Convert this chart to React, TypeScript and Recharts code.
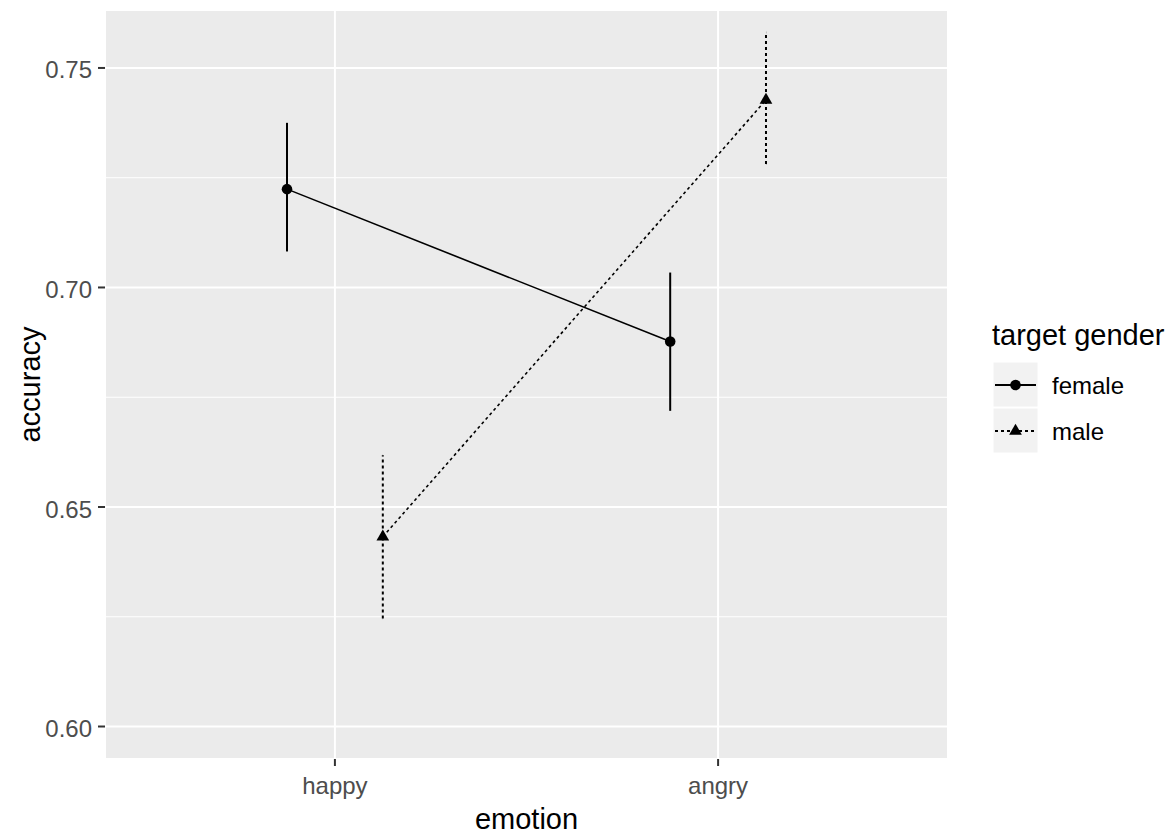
import React from 'react';
import {
  ComposedChart,
  Scatter,
  XAxis,
  YAxis,
  CartesianGrid,
  ReferenceLine,
  ErrorBar,
  Symbols,
} from 'recharts';

// Mean accuracy with confidence bounds, by emotion and target gender
const emotions = ['happy', 'angry'];
const femaleMean = [0.7224, 0.6877];
const femaleLow = [0.7082, 0.6719];
const femaleHigh = [0.7375, 0.7034];
const maleMean = [0.6432, 0.7427];
const maleLow = [0.6246, 0.7281];
const maleHigh = [0.6618, 0.7581];

const yTicks = [0.6, 0.65, 0.7, 0.75];
const yMinorTicks = [0.625, 0.675, 0.725];
const xTicks = [1, 2];
const dodge = 0.125;

const FONT = '"Liberation Sans", Arial, Helvetica, sans-serif';
const W = 1173;
const H = 839;

const build = (mean: number[], low: number[], high: number[], offset: number) =>
  emotions.map((e, i) => ({
    emotion: e,
    x: i + 1 + offset,
    y: mean[i],
    err: [mean[i] - low[i], high[i] - mean[i]],
  }));

const femaleData = build(femaleMean, femaleLow, femaleHigh, -dodge);
const maleData = build(maleMean, maleLow, maleHigh, dodge);

const circleShape = (p: any) => (
  <Symbols cx={p.cx} cy={p.cy} type="circle" size={88} fill="#000000" />
);
const triangleShape = (p: any) => (
  <Symbols cx={p.cx} cy={p.cy} type="triangle" size={70} fill="#000000" />
);

function LegendBox() {
  return (
    <svg
      width={W}
      height={H}
      style={{ position: 'absolute', left: 0, top: 0, pointerEvents: 'none' }}
    >
      <text x={992} y={345} fontFamily={FONT} fontSize={29} fill="#000">
        target gender
      </text>
      <rect x={993} y={362} width={45} height={45} fill="#F2F2F2" stroke="#ffffff" strokeWidth={1} />
      <line x1={995} x2={1036} y1={385} y2={385} stroke="#000" strokeWidth={1.8} />
      <Symbols cx={1015.5} cy={385} type="circle" size={88} fill="#000" />
      <text x={1052} y={394} fontFamily={FONT} fontSize={24} fill="#000">
        female
      </text>
      <rect x={993} y={408} width={45} height={45} fill="#F2F2F2" stroke="#ffffff" strokeWidth={1} />
      <line x1={995} x2={1036} y1={431} y2={431} stroke="#000" strokeWidth={1.8} strokeDasharray="3 3" />
      <Symbols cx={1015.5} cy={431} type="triangle" size={70} fill="#000" />
      <text x={1052} y={440} fontFamily={FONT} fontSize={24} fill="#000">
        male
      </text>
    </svg>
  );
}

export default function App() {
  return (
    <div style={{ position: 'absolute', left: 0, top: 0, width: W, height: H, background: '#fff' }}>
      <ComposedChart
        width={W}
        height={H}
        margin={{ top: 10, right: 225, bottom: 0, left: 0 }}
        style={{ fontFamily: FONT }}
      >
        <CartesianGrid
          fill="#EBEBEB"
          stroke="#FFFFFF"
          strokeWidth={2}
          horizontal
          vertical
        />
        {yMinorTicks.map((v) => (
          <ReferenceLine key={v} y={v} stroke="#FFFFFF" strokeWidth={1} />
        ))}
        <XAxis
          type="number"
          dataKey="x"
          domain={[0.4, 2.6]}
          ticks={xTicks}
          allowDataOverflow
          tickFormatter={(v: number) => emotions[v - 1]}
          axisLine={false}
          tickSize={7}
          tickMargin={11}
          height={80}
          tickLine={{ stroke: '#333333', strokeWidth: 2 }}
          tick={{ fill: '#4D4D4D', fontSize: 24, fontFamily: FONT }}
          label={{
            value: 'emotion',
            position: 'insideBottom',
            offset: 10,
            style: { fill: '#000', fontSize: 29, fontFamily: FONT },
          }}
        />
        <YAxis
          type="number"
          dataKey="y"
          domain={[0.5926, 0.7632]}
          ticks={yTicks}
          allowDataOverflow
          tickFormatter={(v: number) => v.toFixed(2)}
          axisLine={false}
          width={105}
          tickSize={7}
          tickMargin={6}
          tickLine={{ stroke: '#333333', strokeWidth: 2 }}
          tick={{ fill: '#4D4D4D', fontSize: 24, fontFamily: FONT, dy: 2 }}
          label={{
            value: 'accuracy',
            angle: -90,
            position: 'insideLeft',
            offset: 30,
            style: { fill: '#000', fontSize: 29, fontFamily: FONT, textAnchor: 'middle' },
          }}
        />
        <Scatter
          name="female"
          data={femaleData}
          isAnimationActive={false}
          line={{ stroke: '#000000', strokeWidth: 1.6 }}
          shape={circleShape}
        >
          <ErrorBar
            dataKey="err"
            direction="y"
            width={0}
            stroke="#000000"
            strokeWidth={2}
            isAnimationActive={false}
          />
        </Scatter>
        <Scatter
          name="male"
          data={maleData}
          isAnimationActive={false}
          line={{ stroke: '#000000', strokeWidth: 1.6, strokeDasharray: '3 3' }}
          shape={triangleShape}
        >
          <ErrorBar
            dataKey="err"
            direction="y"
            width={0}
            stroke="#000000"
            strokeWidth={2}
            strokeDasharray="3 3"
            isAnimationActive={false}
          />
        </Scatter>
      </ComposedChart>
      <LegendBox />
    </div>
  );
}
